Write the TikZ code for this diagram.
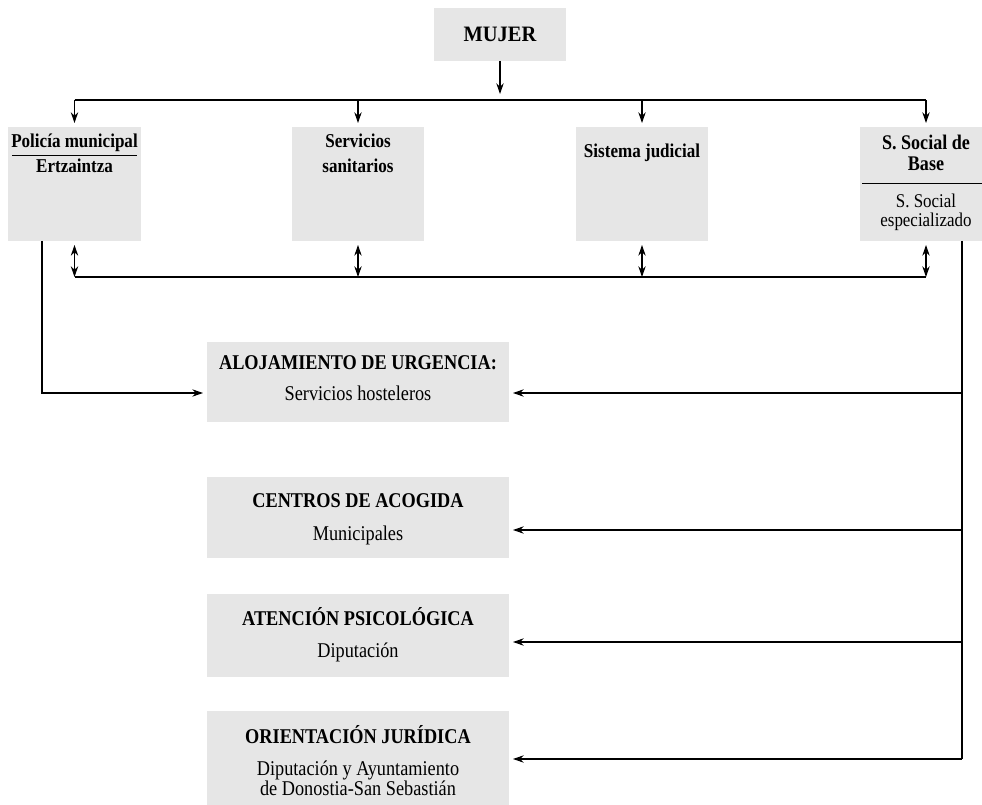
\documentclass[tikz,border=0pt]{standalone}
\usepackage{fontspec}
\setmainfont[FakeStretch=0.87]{Liberation Serif}
\newfontfamily\mujerfont[FakeStretch=0.93]{Liberation Serif}
\usetikzlibrary{arrows.meta,calc}
\definecolor{boxgray}{HTML}{E6E6E6}
\begin{document}
\begin{tikzpicture}[x=0.75pt,y=-0.75pt,
  box/.style={fill=boxgray, draw=none, inner sep=0pt, outer sep=0pt},
  ln/.style={line width=0.8pt},
  tip/.tip={Stealth[length=8pt,width=5.5pt,inset=2.5pt]},
  arr/.style={ln,-tip},
  darr/.style={ln,tip-tip},
  txt/.style={anchor=base, inner sep=0pt, outer sep=0pt},
  tbold/.style={txt, font=\fontsize{14.7}{17}\selectfont\bfseries},
  fbold/.style={txt, font=\fontsize{15.6}{18}\selectfont\bfseries},
  freg/.style={txt, font=\fontsize{14.6}{17}\selectfont},
  lbold/.style={txt, font=\fontsize{15.75}{18}\selectfont\bfseries},
  lreg/.style={txt, font=\fontsize{15.75}{18}\selectfont},
  mbold/.style={txt, font=\fontsize{16.5}{19}\selectfont\mujerfont\bfseries},
  rule/.style={line width=0.6pt}
]
\useasboundingbox (0,0) rectangle (982,805);
\newcommand\pbox[5]{\node[box, minimum width=#4*0.75pt, minimum height=#5*0.75pt] (#1) at (#2,#3) {};}
% boxes
\pbox{mujer}{500}{34.5}{132}{53}
\pbox{b1}{74.5}{184}{133}{114}
\pbox{b2}{358}{184}{132}{114}
\pbox{b3}{642}{184}{132}{114}
\pbox{b4}{926}{184}{132}{114}
\pbox{aloj}{358}{382}{302}{80}
\pbox{centros}{358}{517.5}{302}{81}
\pbox{aten}{358}{635.5}{302}{83}
\pbox{orient}{358}{760.5}{302}{99}
% texts
\node[mbold] (tmujer) at (500,42) {MUJER};
\node[tbold] (t1a) at (74.5,148) {Policía municipal};
\node[tbold] (t1b) at (74.5,173) {Ertzaintza};
\draw[rule] (12,155) -- (137,155);
\node[tbold] (t2a) at (358,148) {Servicios};
\node[tbold] (t2b) at (358,173) {sanitarios};
\node[tbold] (t3) at (642,158) {Sistema judicial};
\node[fbold] (t4a) at (926,150) {S. Social de};
\node[fbold] (t4b) at (926,171) {Base};
\draw[rule] (862,183) -- (982,183);
\node[freg] (t4c) at (926,208) {S. Social};
\node[freg] (t4d) at (926,227) {especializado};
\node[lbold] (ta1) at (358,370) {ALOJAMIENTO DE URGENCIA:};
\node[lreg] (ta2) at (358,401) {Servicios hosteleros};
\node[lbold] (tc1) at (358,508) {CENTROS DE ACOGIDA};
\node[lreg] (tc2) at (358,540) {Municipales};
\node[lbold] (tp1) at (358,625) {ATENCIÓN PSICOLÓGICA};
\node[lreg] (tp2) at (358,657) {Diputación};
\node[lbold] (to1) at (358,743) {ORIENTACIÓN JURÍDICA};
\node[inner sep=0pt, outer sep=0pt, anchor=north, align=center, font=\fontsize{15.75}{13.8}\selectfont] (to2) at (358,760.5) {Diputación y Ayuntamiento\\de Donostia-San Sebastián};
% connectors top
\draw[arr] (mujer.south) -- ++(0,33);
\draw[ln] (b1.north |- 0,100) -- (b4.north |- 0,100);
\foreach \b in {b1,b2,b3,b4}{
  \draw[arr] (\b.north |- 0,100) -- ($(\b.north)+(0,-4)$);
  \draw[darr] ($(\b.south)+(0,4)$) -- (\b.south |- 0,277);
}
\draw[ln] (b1.south |- 0,277) -- (b4.south |- 0,277);
% left connector
\draw[arr] ($(b1.south west)+(34,0)$) |- ($(aloj.west |- 0,393)+(-4,0)$);
% right trunk
\coordinate (rt) at ($(b4.south west)+(102,0)$);
\draw[ln] (rt) -- (rt |- 0,759);
\draw[arr] (rt |- 0,393) -- ($(aloj.east |- 0,393)+(4,0)$);
\draw[arr] (rt |- 0,530) -- ($(centros.east |- 0,530)+(4,0)$);
\draw[arr] (rt |- 0,642) -- ($(aten.east |- 0,642)+(4,0)$);
\draw[arr] (rt |- 0,759) -- ($(orient.east |- 0,759)+(4,0)$);
\end{tikzpicture}
\end{document}
